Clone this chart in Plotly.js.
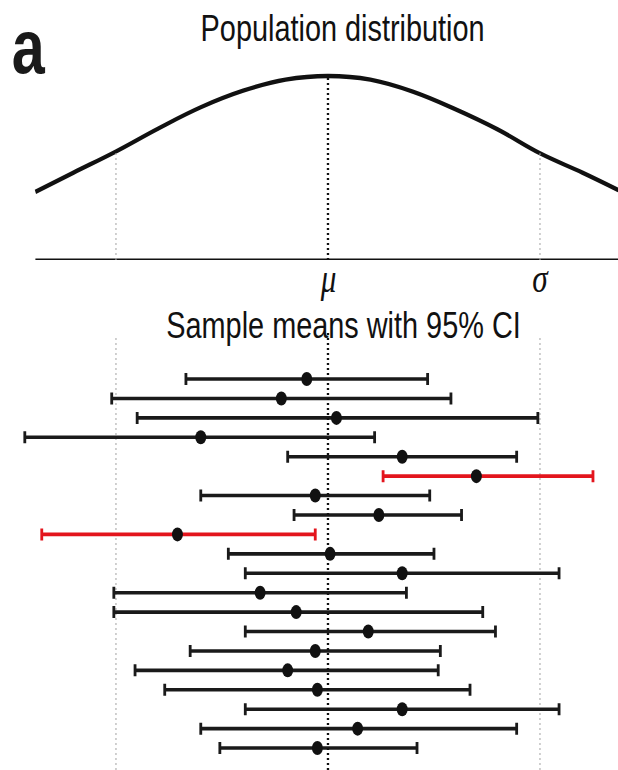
<!DOCTYPE html>
<html>
<head>
<meta charset="utf-8">
<script src="https://cdn.plot.ly/plotly-3.0.1.min.js"></script>
<style>
  html, body { margin: 0; padding: 0; overflow: hidden; background: #fff; }
  #wrap { width: 618px; height: 770px; overflow: hidden; }
  #plot { width: 792px; height: 770px; transform: scaleX(0.7803); transform-origin: 0 0; }
</style>
</head>
<body>
<div id="wrap"><div id="plot"></div></div>
<script>
// ---- data (x in units of sigma, mu = 0) ----
const mu = 0;
const sigma = 1;
// population curve (relative height, peak = 1)
const curveX = [-1.38, -1.2, -1.0, -0.8, -0.6, -0.4, -0.2, 0, 0.2, 0.4, 0.6, 0.8, 1.0, 1.2, 1.37];
const curveY = [0.37, 0.475, 0.59, 0.715, 0.83, 0.92, 0.98, 1.0, 0.98, 0.915, 0.82, 0.71, 0.58, 0.475, 0.38];
// sample means with 95% CI (rows top to bottom)
const rows  = [1, 2, 3, 4, 5, 6, 7, 8, 9, 10, 11, 12, 13, 14, 15, 16, 17, 18, 19, 20];
const means = [-0.10, -0.22, 0.04, -0.60, 0.35, 0.70, -0.06, 0.24, -0.71, 0.01, 0.35, -0.32, -0.15, 0.19, -0.06, -0.19, -0.05, 0.35, 0.14, -0.05];
const lower = [-0.67, -1.02, -0.90, -1.43, -0.19, 0.26, -0.60, -0.16, -1.35, -0.47, -0.39, -1.01, -1.01, -0.39, -0.65, -0.91, -0.77, -0.39, -0.60, -0.51];
const upper = [0.47, 0.58, 0.99, 0.22, 0.89, 1.25, 0.48, 0.63, -0.06, 0.50, 1.09, 0.37, 0.73, 0.79, 0.53, 0.52, 0.67, 1.09, 0.89, 0.42];
const titleTop = 'Population distribution';
const titleBottom = 'Sample means with 95% CI';
const panelLabel = 'a';

// ---- build ----
const xRange = [-1.547, 1.368];
const hit = [], miss = [];
rows.forEach((r, i) => {
  (lower[i] <= mu && upper[i] >= mu ? hit : miss).push(i);
});
function ciTrace(idx, color) {
  return {
    type: 'scatter', mode: 'markers', xaxis: 'x2', yaxis: 'y2',
    x: idx.map(i => means[i]), y: idx.map(i => rows[i]),
    marker: { color: '#111', size: 14 },
    error_x: {
      type: 'data', symmetric: false,
      array: idx.map(i => upper[i] - means[i]),
      arrayminus: idx.map(i => means[i] - lower[i]),
      color: color, thickness: 3.6, width: 6
    },
    hoverinfo: 'skip', showlegend: false
  };
}
const yAt = v => curveY[curveX.indexOf(v)];

const traces = [
  { type: 'scatter', mode: 'lines', x: curveX, y: curveY, xaxis: 'x', yaxis: 'y',
    line: { color: '#111', width: 4.4, shape: 'spline', smoothing: 1.1 },
    hoverinfo: 'skip', showlegend: false, cliponaxis: false },
  ciTrace(hit, '#1a1a1a'),
  ciTrace(miss, '#e3151d')
];

const dotDash = '2px,3px';
const shapes = [
  { type: 'line', xref: 'x', yref: 'y', x0: curveX[0], x1: xRange[1], y0: 0, y1: 0,
    line: { color: '#111', width: 2.8 } },
  { type: 'line', xref: 'x', yref: 'y', x0: mu, x1: mu, y0: 0, y1: yAt(mu),
    line: { color: '#111', width: 3, dash: dotDash } },
  { type: 'line', xref: 'x', yref: 'y', x0: mu - sigma, x1: mu - sigma, y0: 0, y1: yAt(mu - sigma),
    line: { color: '#aaa', width: 1.4, dash: dotDash } },
  { type: 'line', xref: 'x', yref: 'y', x0: mu + sigma, x1: mu + sigma, y0: 0, y1: yAt(mu + sigma),
    line: { color: '#aaa', width: 1.4, dash: dotDash } },
  { type: 'line', xref: 'x2', yref: 'y2 domain', x0: mu, x1: mu, y0: 0, y1: 0.93,
    line: { color: '#111', width: 3, dash: dotDash }, layer: 'above' },
  { type: 'line', xref: 'x2', yref: 'y2 domain', x0: mu - sigma, x1: mu - sigma, y0: 0, y1: 0.92,
    line: { color: '#aaa', width: 1.4, dash: dotDash }, layer: 'below' },
  { type: 'line', xref: 'x2', yref: 'y2 domain', x0: mu + sigma, x1: mu + sigma, y0: 0, y1: 0.92,
    line: { color: '#aaa', width: 1.4, dash: dotDash }, layer: 'below' }
];

const sans = 'Liberation Sans, Arial, sans-serif';
const serif = 'Liberation Serif, Times New Roman, serif';
const annotations = [
  { text: '<b>' + panelLabel + '</b>', xref: 'paper', yref: 'paper', x: 0.0461, y: 0.9395,
    xanchor: 'center', yanchor: 'middle', showarrow: false,
    font: { family: sans, size: 76, color: '#1a1a1a' } },
  { text: titleTop, xref: 'paper', yref: 'paper', x: 0.554, y: 0.9625,
    xanchor: 'center', yanchor: 'middle', showarrow: false,
    font: { family: sans, size: 37, color: '#111' } },
  { text: titleBottom, xref: 'paper', yref: 'paper', x: 0.5556, y: 0.5777,
    xanchor: 'center', yanchor: 'middle', showarrow: false,
    font: { family: sans, size: 37, color: '#111' } },
  { text: '<i>μ</i>', xref: 'x', yref: 'paper', x: mu, y: 0.6383,
    xanchor: 'center', yanchor: 'middle', showarrow: false,
    font: { family: serif, size: 40, color: '#111' } },
  { text: '<i>σ</i>', xref: 'x', yref: 'paper', x: mu + sigma, y: 0.6383,
    xanchor: 'center', yanchor: 'middle', showarrow: false,
    font: { family: serif, size: 40, color: '#111' } }
];

const hidden = { visible: false, showgrid: false, zeroline: false, fixedrange: true };
const layout = {
  width: 792, height: 770,
  margin: { l: 0, r: 0, t: 0, b: 0, pad: 0 },
  paper_bgcolor: '#fff', plot_bgcolor: '#fff',
  showlegend: false,
  xaxis: Object.assign({}, hidden, { domain: [0, 1], range: xRange, anchor: 'y' }),
  yaxis: Object.assign({}, hidden, { domain: [0.66234, 1], range: [0, 1.413], anchor: 'x' }),
  xaxis2: Object.assign({}, hidden, { domain: [0, 1], range: xRange, anchor: 'y2' }),
  yaxis2: Object.assign({}, hidden, { domain: [0, 0.61039], range: [21.13, -3.07], anchor: 'x2' }),
  shapes: shapes,
  annotations: annotations
};

Plotly.newPlot('plot', traces, layout, { staticPlot: true, displayModeBar: false });
</script>
</body>
</html>
